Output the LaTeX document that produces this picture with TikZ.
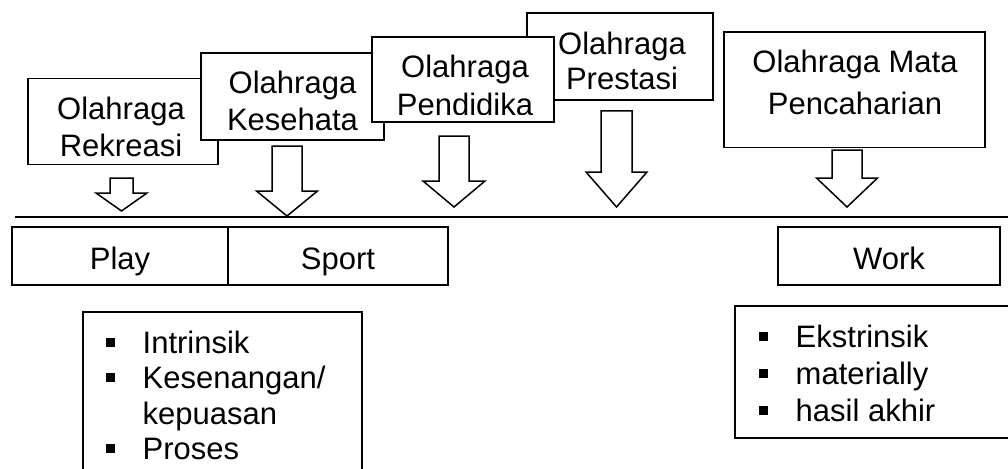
\documentclass[tikz,border=0pt]{standalone}
\usepackage{fontspec}
\setmainfont{Liberation Sans}
\usetikzlibrary{positioning}
\tikzset{
    box/.style = {draw,line width=1.8pt,fill=white,outer sep=0,inner sep=0},
    boxtext/.style = {inner sep=0,anchor=base},
    cell/.style = {box,minimum height=58,text height=27pt,text depth=0pt,font=\fontsize{31}{36}\selectfont},
    blockarrow/.style = {draw,line width=1.5pt,fill=white},
    axis/.style = {line width=2.2pt},
    list/.style = {inner sep=0,anchor=base west}
}
\newcommand*\blt{\rule[6.5pt]{9pt}{9pt}}

\begin{document}
\begin{tikzpicture}[x=1pt,y=-1pt]
    \useasboundingbox (0,0) rectangle (1008,468);
    \clip (0,0) rectangle (1008,468);
    % Olahraga boxes, back to front
    \foreach \name/\cx/\cy/\w/\h/\tx/\ty/\lsep/\txt in {
        rekreasi/123/121.5/190/86/121/119/37/{Olahraga\\Rekreasi},
        kesehatan/292.5/96.5/183/87/292.5/94/36/{Olahraga\\Kesehata},
        prestasi/620/56.5/186/87/622/55/35/{Olahraga\\Prestasi},
        pendidikan/463/79.5/182/85/465/78/37/{Olahraga\\Pendidika},
        mata/854.5/89.75/261/115.5/855/73/42/{Olahraga Mata\\Pencaharian}}
    {
        \node[box,minimum width=\w,minimum height=\h] (\name) at (\cx,\cy) {};
        \begin{scope}
            \clip (\name.north west) rectangle ([yshift=7pt]\name.south east);
            \node[boxtext,font=\fontsize{31}{\lsep}\selectfont] (\name-txt) at (\tx,\ty)
                {\begin{tabular}[t]{@{}c@{}}\txt\end{tabular}};
        \end{scope}
    }
    % Block arrows
    \foreach \cx/\ytop/\yhead/\ytip/\sw/\hw in {121.5/178/193/211/11.5/25.5,
        287/146/191/216/15/30.5, 454/136/181/207/15/31,
        616.5/111/172/207/15.5/30.5, 847/150/178/207/15/30.5}
        \draw[blockarrow] (\cx-\sw,\ytop) -- (\cx+\sw,\ytop) -- (\cx+\sw,\yhead)
            -- (\cx+\hw,\yhead) -- (\cx,\ytip) -- (\cx-\hw,\yhead)
            -- (\cx-\sw,\yhead) -- cycle;
    % Axis
    \coordinate (axisL) at (15,217);
    \coordinate (axisR) at (1008,217);
    \draw[axis] (axisL) -- (axisR);
    % Play, Sport, Work
    \node[cell,minimum width=216] (play) at (120,256) {Play};
    \node[cell,minimum width=220,right=0pt of play] (sport) {Sport};
    \node[cell,minimum width=222] (work) at (889,256) {Work};
    % Ciri-ciri
    \node[box,minimum width=279,minimum height=220] (ciriplay) at (222.5,422) {};
    \node[box,minimum width=300,minimum height=132] (ciriwork) at (885,372) {};
    \node[list,font=\fontsize{31}{35.5}\selectfont] (ciriplay-txt) at (106,353)
        {\begin{tabular}[t]{@{}l@{\hspace{27.5pt}}l@{}}
            \blt & Intrinsik\\ \blt & Kesenangan/\\ & kepuasan\\ \blt & Proses
        \end{tabular}};
    \node[list,font=\fontsize{31}{37}\selectfont] (ciriwork-txt) at (759,347)
        {\begin{tabular}[t]{@{}l@{\hspace{27.5pt}}l@{}}
            \blt & Ekstrinsik\\ \blt & materially\\ \blt & hasil akhir
        \end{tabular}};
\end{tikzpicture}
\end{document}
